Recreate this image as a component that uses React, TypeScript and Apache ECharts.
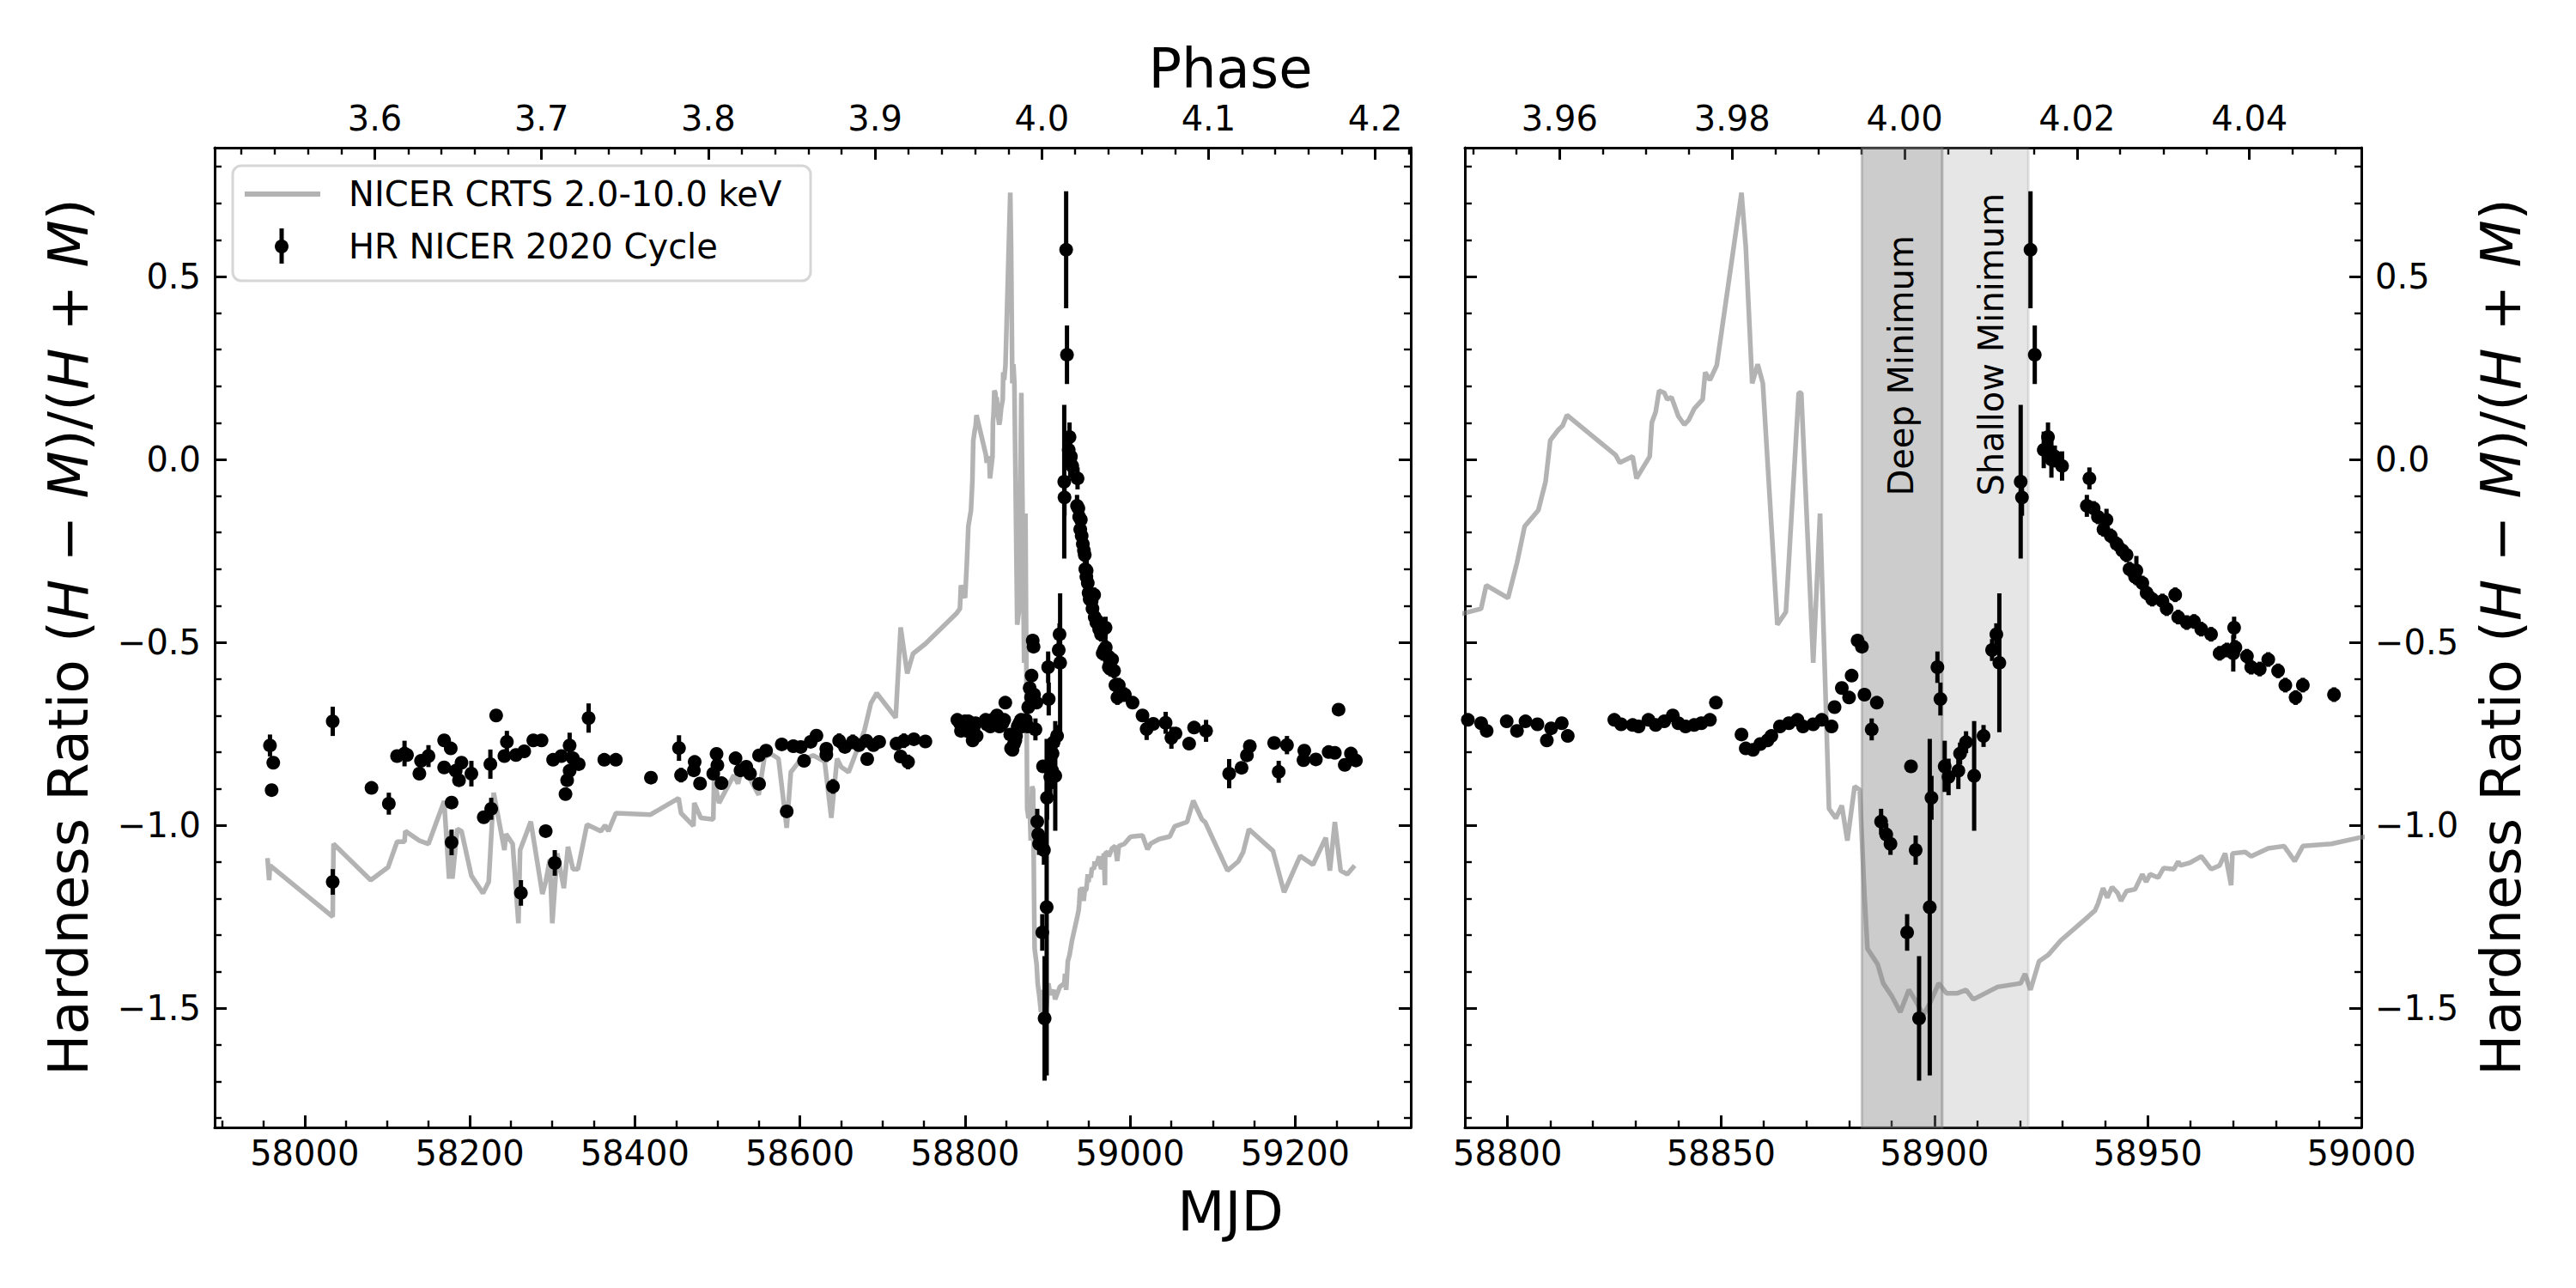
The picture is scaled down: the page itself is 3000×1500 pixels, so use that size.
import React, { useEffect, useRef } from 'react';
import * as echarts from 'echarts';

const FONT = 'DejaVu Sans';

// Axis ranges
const mjdLeftRange = [57891, 59340];
const mjdRightRange = [58790, 59000];
const hrRange = [-1.826, 0.852];
// Ephemeris used for the top phase axis: phase = 4 + (MJD - 58893) / 2020
const phaseRefMjd = 58893;
const phaseRef = 4.0;
const periodDays = 2020;

// Shaded intervals (MJD)
const deepMinimum = [58883, 58901.8];
const shallowMinimum = [58901.8, 58922];

// Hardness ratio points: [MJD, HR, error]
const hrQuiescent = [
  [57958, -0.782, 0.03], [57962, -0.829, 0.015], [57960, -0.904, 0.015],
  [58034, -0.716, 0.04], [58034, -1.155, 0.035], [58081, -0.898, 0.015],
  [58102, -0.941, 0.03], [58112, -0.811, 0.015], [58121, -0.804, 0.035],
  [58124, -0.808, 0.015], [58139, -0.859, 0.015], [58141, -0.824, 0.015],
  [58150, -0.811, 0.03], [58169, -0.768, 0.015], [58177, -0.79, 0.015],
  [58169, -0.842, 0.015], [58178, -0.938, 0.015], [58178, -1.047, 0.035],
  [58183, -0.851, 0.015], [58187, -0.877, 0.015], [58190, -0.829, 0.015],
  [58202, -0.859, 0.035], [58217, -0.978, 0.015], [58226, -0.955, 0.03],
  [58225, -0.833, 0.04], [58232, -0.7, 0.015], [58245, -0.772, 0.03],
  [58242, -0.811, 0.015], [58256, -0.808, 0.015], [58266, -0.798, 0.015],
  [58262, -1.185, 0.035], [58277, -0.768, 0.015], [58287, -0.768, 0.015],
  [58292, -1.016, 0.015], [58301, -0.821, 0.015], [58303, -1.103, 0.035],
  [58311, -0.811, 0.015], [58321, -0.782, 0.035], [58325, -0.817, 0.015],
  [58332, -0.833, 0.015], [58321, -0.851, 0.015], [58318, -0.877, 0.015],
  [58316, -0.915, 0.015], [58344, -0.707, 0.04], [58363, -0.821, 0.015],
  [58377, -0.821, 0.015], [58419.5, -0.87, 0.015], [58453.5, -0.789, 0.035],
  [58456, -0.863, 0.02], [58472.5, -0.827, 0.015], [58471.5, -0.85, 0.015],
  [58479, -0.886, 0.015], [58499, -0.805, 0.015], [58500, -0.836, 0.015],
  [58495, -0.859, 0.015], [58505, -0.885, 0.015], [58522, -0.817, 0.015],
  [58528, -0.85, 0.015], [58535, -0.84, 0.015], [58539.5, -0.859, 0.015],
  [58550.5, -0.809, 0.015], [58559, -0.796, 0.015], [58550.5, -0.887, 0.015],
  [58578, -0.779, 0.015], [58584, -0.962, 0.015], [58592, -0.784, 0.015],
  [58601, -0.786, 0.015], [58605, -0.824, 0.015], [58613, -0.772, 0.015],
  [58620, -0.755, 0.015], [58632, -0.791, 0.015], [58632, -0.807, 0.02],
  [58640, -0.894, 0.02], [58647.5, -0.769, 0.02], [58654.5, -0.786, 0.015],
  [58664, -0.772, 0.02], [58671.5, -0.781, 0.015], [58680.5, -0.769, 0.015],
  [58681.5, -0.819, 0.015], [58689, -0.781, 0.015], [58696, -0.772, 0.015],
  [58717, -0.777, 0.015], [58722, -0.812, 0.015], [58726, -0.769, 0.02],
  [58731, -0.827, 0.02], [58738, -0.765, 0.015], [58752, -0.771, 0.015],
];

const hrPeriastron = [
  [58790.7, -0.712, 0.015], [58793.8, -0.721, 0.015], [58795.1, -0.742, 0.015],
  [58799.8, -0.716, 0.015], [58802.2, -0.742, 0.015], [58804.2, -0.716, 0.015],
  [58807, -0.724, 0.015], [58809.2, -0.768, 0.015], [58810.2, -0.735, 0.015],
  [58812.7, -0.721, 0.015], [58814.1, -0.756, 0.015], [58825, -0.712, 0.015],
  [58826.6, -0.724, 0.015], [58829.3, -0.726, 0.015], [58830.7, -0.73, 0.015],
  [58833, -0.712, 0.015], [58834.7, -0.726, 0.015], [58836.7, -0.716, 0.015],
  [58838.7, -0.7, 0.015], [58840, -0.721, 0.015], [58841.7, -0.73, 0.015],
  [58843.7, -0.726, 0.015], [58845.4, -0.721, 0.015], [58847.4, -0.712, 0.015],
  [58848.8, -0.665, 0.015], [58854.8, -0.752, 0.015], [58855.8, -0.79, 0.015],
  [58857.5, -0.794, 0.015], [58859.2, -0.778, 0.015], [58860.9, -0.768, 0.015],
  [58861.8, -0.756, 0.015], [58863.8, -0.73, 0.015], [58865.9, -0.721, 0.015],
  [58867.9, -0.712, 0.015], [58869.2, -0.73, 0.015], [58871.6, -0.724, 0.015],
  [58873.6, -0.712, 0.015], [58875.9, -0.73, 0.015], [58876.6, -0.677, 0.015],
  [58878.3, -0.625, 0.015], [58880, -0.651, 0.015], [58880.6, -0.591, 0.015],
  [58882, -0.495, 0.015], [58883, -0.512, 0.015], [58883.6, -0.643, 0.015],
  [58886.5, -0.665, 0.015], [58885.3, -0.738, 0.03], [58887.5, -0.99, 0.035],
  [58888.7, -1.025, 0.03], [58889.7, -1.051, 0.03], [58894.5, -0.839, 0.015],
  [58895.6, -1.068, 0.04], [58893.6, -1.293, 0.05], [58896.4, -1.528, 0.17],
  [58898.9, -1.224, 0.46], [58899.3, -0.925, 0.06], [58900.7, -0.568, 0.043],
  [58901.4, -0.655, 0.045], [58902.4, -0.839, 0.07], [58903.3, -0.868, 0.05],
  [58905.6, -0.851, 0.05], [58906, -0.804, 0.03], [58907.4, -0.773, 0.03],
  [58909.3, -0.865, 0.15], [58911.5, -0.756, 0.03], [58913.5, -0.521, 0.03],
  [58914.5, -0.478, 0.03], [58915.2, -0.556, 0.19], [58920.2, -0.061, 0.21],
  [58920.5, -0.104, 0.05], [58922.5, 0.573, 0.16], [58923.5, 0.286, 0.08],
  [58925.6, 0.026, 0.05], [58926.6, 0.061, 0.04], [58927.4, 0.0, 0.05],
  [58928.2, 0.008, 0.03], [58929.9, -0.018, 0.04], [58936.3, -0.052, 0.03],
  [58935.7, -0.127, 0.03], [58937.3, -0.134, 0.02], [58938.3, -0.157, 0.02],
  [58939.6, -0.191, 0.02], [58940.3, -0.165, 0.03], [58941.3, -0.209, 0.02],
  [58942.7, -0.231, 0.02], [58944, -0.249, 0.02], [58945, -0.261, 0.02],
  [58945.7, -0.3, 0.02], [58947.3, -0.304, 0.04], [58947, -0.321, 0.02],
  [58948.7, -0.338, 0.02], [58949.7, -0.365, 0.02], [58951, -0.382, 0.02],
  [58953.4, -0.387, 0.02], [58954.4, -0.408, 0.02], [58956.4, -0.37, 0.02],
  [58957.1, -0.431, 0.02], [58959.1, -0.446, 0.02], [58960.8, -0.443, 0.02],
  [58962.5, -0.464, 0.02], [58964.8, -0.478, 0.02], [58966.8, -0.53, 0.02],
  [58968.5, -0.521, 0.02], [58970.2, -0.46, 0.03], [58970, -0.53, 0.05],
  [58970.5, -0.514, 0.02], [58973.2, -0.538, 0.02], [58974.2, -0.568, 0.02],
  [58976.2, -0.573, 0.02], [58978.2, -0.547, 0.02], [58980.5, -0.578, 0.02],
  [58982.2, -0.617, 0.02], [58984.6, -0.651, 0.02], [58986.3, -0.617, 0.02],
  [58993.6, -0.643, 0.02],
];

const hrRecovery = [
  [59003, -0.665, 0.015], [59015, -0.7, 0.015], [59020, -0.737, 0.03],
  [59028, -0.723, 0.015], [59043, -0.72, 0.03], [59050, -0.761, 0.03],
  [59055, -0.749, 0.015], [59071.5, -0.777, 0.015], [59077.5, -0.733, 0.015],
  [59092, -0.742, 0.03], [59120, -0.859, 0.04], [59135, -0.843, 0.015],
  [59141.5, -0.809, 0.015], [59145, -0.784, 0.015], [59174.5, -0.775, 0.015],
  [59190, -0.781, 0.025], [59180, -0.854, 0.03], [59211, -0.796, 0.015],
  [59210, -0.822, 0.015], [59225, -0.82, 0.015], [59240.5, -0.8, 0.015],
  [59248, -0.802, 0.015], [59252.5, -0.684, 0.015], [59267.5, -0.804, 0.015],
  [59260, -0.835, 0.015], [59273.5, -0.823, 0.015],
];

// NICER count-rate light curve (scaled to the HR axis): [MJD, value]
const crtsQuiescent = [
  [57955, -1.09], [57957, -1.15], [57958, -1.11], [58034, -1.25], [58035, -1.051],
  [58080, -1.15], [58101, -1.115], [58112, -1.045], [58121, -1.045], [58122, -1.016],
  [58139, -1.042], [58150, -1.051], [58169, -0.934], [58175, -1.146], [58176, -1.016],
  [58179, -1.146], [58181, -1.1], [58185, -1.01], [58190, -1.016], [58202, -1.138],
  [58216, -1.186], [58223, -1.155], [58229, -0.911], [58242, -1.068], [58244, -1.024],
  [58252, -1.051], [58259, -1.268], [58261, -1.068], [58274, -0.99], [58288, -1.188],
  [58292, -1.155], [58297, -1.094], [58300, -1.268], [58306, -1.077], [58314, -1.172],
  [58319, -1.059], [58325, -1.12], [58331, -1.12], [58342, -0.998], [58359, -1.016],
  [58364, -1.0], [58368, -1.016], [58377, -0.967], [58419, -0.971], [58453, -0.926],
  [58456, -0.967], [58471, -1.002], [58472, -0.939], [58480, -0.98], [58495, -0.984],
  [58496, -0.877], [58502, -0.939], [58520, -0.863], [58525, -0.886], [58528, -0.86],
  [58535, -0.855], [58550, -0.917], [58557, -0.814], [58565, -0.805], [58574, -0.818],
  [58584, -1.007], [58589, -0.855], [58599, -0.826], [58616, -0.809], [58630, -0.826],
  [58638, -0.98], [58645, -0.818], [58650, -0.841], [58659, -0.855], [58678, -0.742],
  [58686, -0.666], [58693, -0.639], [58716, -0.706], [58722, -0.459], [58730, -0.585],
  [58737, -0.531], [58752, -0.504],
];

const crtsPeriastron = [
  [58790, -0.42], [58793.8, -0.408], [58795, -0.344], [58800.1, -0.379], [58802.2, -0.283],
  [58804, -0.183], [58807.2, -0.139], [58808.9, -0.061], [58810, 0.052], [58811.9, 0.081],
  [58812.9, 0.092], [58813.9, 0.121], [58825.3, 0.012], [58826.3, -0.009], [58829.3, 0.008],
  [58830.2, -0.052], [58833.3, 0.008], [58833.8, 0.101], [58834.7, 0.13], [58835.5, 0.188],
  [58836.7, 0.182], [58837.4, 0.164], [58838.4, 0.17], [58840, 0.118], [58841.4, 0.095],
  [58842.4, 0.107], [58843.7, 0.138], [58845.7, 0.164], [58846.3, 0.238], [58847.4, 0.217],
  [58849, 0.257], [58854.8, 0.729], [58855.8, 0.581], [58857.3, 0.208], [58858.6, 0.26],
  [58859.8, 0.208], [58863.2, -0.452], [58865.2, -0.417], [58868.2, 0.182], [58868.8, 0.182],
  [58871.6, -0.556], [58873.2, -0.148], [58875.3, -0.955], [58876.9, -0.981], [58878.3, -0.946],
  [58879.6, -1.042], [58881.3, -0.894], [58882.5, -0.903], [58883.6, -1.19], [58884.3, -1.337],
  [58886.7, -1.38], [58888, -1.432], [58890, -1.467], [58892, -1.511], [58894, -1.45],
  [58895.4, -1.476], [58897.4, -1.519], [58899, -1.485], [58901, -1.432], [58902.8, -1.459],
  [58905.4, -1.459], [58907.4, -1.45], [58909.1, -1.476], [58914.8, -1.442], [58920.2, -1.432],
  [58921.2, -1.406], [58922.5, -1.45], [58924.5, -1.372], [58926.6, -1.355], [58929.6, -1.315],
  [58936, -1.25], [58937.6, -1.233], [58938.3, -1.215], [58939.5, -1.172], [58940.5, -1.198],
  [58941.6, -1.169], [58942.9, -1.185], [58943.7, -1.207], [58945, -1.18], [58947, -1.175],
  [58948.7, -1.134], [58949.6, -1.155], [58950.5, -1.134], [58952.4, -1.143], [58953.7, -1.117],
  [58956.1, -1.12], [58957.1, -1.099], [58957.6, -1.11], [58959.8, -1.103], [58962.5, -1.085],
  [58964.8, -1.12], [58966.8, -1.11], [58968.1, -1.077], [58969.5, -1.164], [58969.8, -1.077],
  [58972.8, -1.073], [58974.2, -1.085], [58978.2, -1.063], [58981.9, -1.057], [58984.4, -1.098],
  [58986.3, -1.057], [58993, -1.051], [58999.9, -1.033],
];

const crtsRecovery = [
  [59002, -1.031], [59015, -1.028], [59021, -1.066], [59025, -1.05], [59035, -1.038],
  [59048, -1.031], [59054, -1.003], [59069, -0.991], [59076.5, -0.933], [59087, -0.984],
  [59091, -0.992], [59118, -1.124], [59131, -1.099], [59137, -1.073], [59144, -1.011],
  [59173, -1.07], [59186.5, -1.183], [59206, -1.084], [59221.5, -1.108], [59237, -1.034],
  [59242, -1.124], [59248, -0.991], [59255, -1.124], [59263, -1.134], [59272, -1.11],
];

const legendLabels = ['NICER CRTS 2.0-10.0 keV', 'HR NICER 2020 Cycle'];
const spanLabels = ['Deep Minimum', 'Shallow Minimum'];

const hrAll = [...hrQuiescent, ...hrPeriastron, ...hrRecovery];
const crtsAll = [...crtsQuiescent, ...crtsPeriastron, ...crtsRecovery];

const toPhase = (mjd: number) => phaseRef + (mjd - phaseRefMjd) / periodDays;
const minusFmt = (v: number, d: number) => (v < 0 ? '\u2212' : '') + Math.abs(v).toFixed(d);

const LINE_COLOR = 'rgba(128,128,128,0.6)';

function axisBase(showLabel: boolean, minorSplit: number, fmt: (v: number) => string, margin: number, showMin = false, showMax = false) {
  return {
    type: 'value',
    axisLine: { show: true, onZero: false, lineStyle: { color: '#000', width: 3 } },
    axisTick: { show: true, inside: true, length: 14, lineStyle: { color: '#000', width: 3 } },
    minorTick: { show: true, splitNumber: minorSplit, length: 8, lineStyle: { color: '#000', width: 2.4 } },
    splitLine: { show: false },
    minorSplitLine: { show: false },
    axisLabel: {
      show: showLabel,
      color: '#000',
      fontSize: 40,
      fontFamily: FONT,
      margin,
      showMinLabel: showMin,
      showMaxLabel: showMax,
      formatter: fmt,
    },
    axisPointer: { show: false },
  };
}

function errorBarSeries(xi: number, yi: number, data: number[][]) {
  return {
    type: 'custom',
    xAxisIndex: xi,
    yAxisIndex: yi,
    silent: true,
    z: 3,
    dimensions: ['x', 'y', 'e'],
    encode: { x: 0, y: 1 },
    data,
    renderItem: (params: any, api: any) => {
      const x = api.value(0);
      const y = api.value(1);
      const e = api.value(2);
      const p1 = api.coord([x, y - e]);
      const p2 = api.coord([x, y + e]);
      return {
        type: 'line',
        shape: { x1: p1[0], y1: p1[1], x2: p2[0], y2: p2[1] },
        style: { stroke: '#000', lineWidth: 5 },
      };
    },
  };
}

export default function App() {
  const ref = useRef<HTMLDivElement>(null);

  useEffect(() => {
    if (!ref.current) return;
    const chart = echarts.init(ref.current, undefined, { renderer: 'svg' });

    const inRight = (d: number[]) => d[0] >= mjdRightRange[0] && d[0] <= mjdRightRange[1];
    const hrRight = hrAll.filter(inRight);

    const option: any = {
      animation: false,
      textStyle: { fontFamily: FONT },
      grid: [
        { left: 250, top: 172, width: 1393, height: 1141, containLabel: false, outerBoundsMode: 'none' },
        { left: 1706, top: 172, width: 1044, height: 1141, containLabel: false, outerBoundsMode: 'none' },
      ],
      xAxis: [
        {
          ...axisBase(true, 4, (v: number) => String(Math.round(v)), 10),
          gridIndex: 0, position: 'bottom',
          min: mjdLeftRange[0], max: mjdLeftRange[1], minInterval: 200, maxInterval: 200, splitNumber: 7,
        },
        {
          ...axisBase(true, 5, (v: number) => v.toFixed(1), 14),
          gridIndex: 0, position: 'top',
          min: toPhase(mjdLeftRange[0]), max: toPhase(mjdLeftRange[1]), minInterval: 0.1, maxInterval: 0.1, splitNumber: 7,
        },
        {
          ...axisBase(true, 5, (v: number) => String(Math.round(v)), 10, false, true),
          gridIndex: 1, position: 'bottom',
          min: mjdRightRange[0], max: mjdRightRange[1], minInterval: 50, maxInterval: 50, splitNumber: 4,
        },
        {
          ...axisBase(true, 4, (v: number) => v.toFixed(2), 14),
          gridIndex: 1, position: 'top',
          min: toPhase(mjdRightRange[0]), max: toPhase(mjdRightRange[1]), minInterval: 0.02, maxInterval: 0.02, splitNumber: 5,
        },
      ],
      yAxis: [
        {
          ...axisBase(true, 5, (v: number) => minusFmt(v, 1), 16),
          gridIndex: 0, position: 'left',
          min: hrRange[0], max: hrRange[1], minInterval: 0.5, maxInterval: 0.5, splitNumber: 5,
        },
        {
          ...axisBase(false, 5, (v: number) => minusFmt(v, 1), 16),
          gridIndex: 0, position: 'right',
          min: hrRange[0], max: hrRange[1], minInterval: 0.5, maxInterval: 0.5, splitNumber: 5,
        },
        {
          ...axisBase(false, 5, (v: number) => minusFmt(v, 1), 16),
          gridIndex: 1, position: 'left',
          min: hrRange[0], max: hrRange[1], minInterval: 0.5, maxInterval: 0.5, splitNumber: 5,
        },
        {
          ...axisBase(true, 5, (v: number) => minusFmt(v, 1), 16),
          gridIndex: 1, position: 'right',
          min: hrRange[0], max: hrRange[1], minInterval: 0.5, maxInterval: 0.5, splitNumber: 5,
        },
      ],
      series: [
        {
          name: legendLabels[0], type: 'line', xAxisIndex: 0, yAxisIndex: 0,
          data: crtsAll, showSymbol: false, symbol: 'none', silent: true, z: 2,
          lineStyle: { color: LINE_COLOR, width: 5.5 },
        },
        errorBarSeries(0, 0, hrAll),
        {
          name: legendLabels[1], type: 'scatter', xAxisIndex: 0, yAxisIndex: 0,
          data: hrAll.map((d) => [d[0], d[1]]), symbol: 'circle', symbolSize: 16, silent: true, z: 4,
          itemStyle: { color: '#000', opacity: 1 },
        },
        {
          type: 'line', xAxisIndex: 2, yAxisIndex: 3,
          data: crtsAll, showSymbol: false, symbol: 'none', silent: true, z: 2, clip: true,
          lineStyle: { color: LINE_COLOR, width: 5.5 },
          markArea: {
            silent: true,
            label: { show: false },
            data: [
              [
                { xAxis: deepMinimum[0], itemStyle: { color: 'rgba(128,128,128,0.4)', borderColor: 'rgba(128,128,128,0.4)', borderWidth: 3 } },
                { xAxis: deepMinimum[1] },
              ],
              [
                { xAxis: shallowMinimum[0], itemStyle: { color: 'rgba(128,128,128,0.2)', borderColor: 'rgba(128,128,128,0.2)', borderWidth: 3 } },
                { xAxis: shallowMinimum[1] },
              ],
            ],
          },
        },
        errorBarSeries(2, 3, hrRight),
        {
          type: 'scatter', xAxisIndex: 2, yAxisIndex: 3,
          data: hrRight.map((d) => [d[0], d[1]]), symbol: 'circle', symbolSize: 16, silent: true, z: 4,
          itemStyle: { color: '#000', opacity: 1 },
        },
      ],
    };

    chart.setOption(option);

    const deepPos = chart.convertToPixel({ gridIndex: 1 } as any, [(deepMinimum[0] + deepMinimum[1]) / 2 - 0.3, -0.1]) as number[];
    const shallowPos = chart.convertToPixel({ gridIndex: 1 } as any, [(shallowMinimum[0] + shallowMinimum[1]) / 2 + 1.5, -0.1]) as number[];

    const labelRich = {
      a: { fontSize: 64, fontFamily: FONT, color: '#000' },
      b: { fontSize: 64, fontFamily: FONT, fontStyle: 'italic', color: '#000' },
    };
    const labelText = '{a|Hardness Ratio (}{b|H}{a| \u2212 }{b|M}{a|)/(}{b|H}{a| + }{b|M}{a|)}';

    chart.setOption({
      graphic: [
        // axis titles
        { type: 'text', x: 1433, y: 80, z: 50, style: { text: 'Phase', fontSize: 64, fontFamily: FONT, fill: '#000', align: 'center', verticalAlign: 'middle' } },
        { type: 'text', x: 1433, y: 1411, z: 50, style: { text: 'MJD', fontSize: 64, fontFamily: FONT, fill: '#000', align: 'center', verticalAlign: 'middle' } },
        { type: 'text', x: 80, y: 742, rotation: Math.PI / 2, z: 50, style: { text: labelText, rich: labelRich, align: 'center', verticalAlign: 'middle' } },
        { type: 'text', x: 2913, y: 742, rotation: Math.PI / 2, z: 50, style: { text: labelText, rich: labelRich, align: 'center', verticalAlign: 'middle' } },
        // span annotations
        { type: 'text', x: deepPos[0], y: deepPos[1], rotation: Math.PI / 2, z: 50, style: { text: spanLabels[0], fontSize: 40, fontFamily: FONT, fill: '#000', align: 'left', verticalAlign: 'middle' } },
        { type: 'text', x: shallowPos[0], y: shallowPos[1], rotation: Math.PI / 2, z: 50, style: { text: spanLabels[1], fontSize: 40, fontFamily: FONT, fill: '#000', align: 'left', verticalAlign: 'middle' } },
        // legend
        { type: 'rect', z: 60, shape: { x: 271, y: 193, width: 673, height: 134, r: 10 }, style: { fill: 'rgba(255,255,255,0.8)', stroke: '#d6d6d6', lineWidth: 3 } },
        { type: 'line', z: 61, shape: { x1: 285, y1: 226, x2: 373, y2: 226 }, style: { stroke: '#b3b3b3', lineWidth: 6 } },
        { type: 'line', z: 61, shape: { x1: 328, y1: 266, x2: 328, y2: 307 }, style: { stroke: '#000', lineWidth: 5 } },
        { type: 'circle', z: 62, shape: { cx: 328, cy: 287, r: 8 }, style: { fill: '#000' } },
        { type: 'text', z: 62, x: 406, y: 226, style: { text: legendLabels[0], fontSize: 40, fontFamily: FONT, fill: '#000', align: 'left', verticalAlign: 'middle' } },
        { type: 'text', z: 62, x: 406, y: 287, style: { text: legendLabels[1], fontSize: 40, fontFamily: FONT, fill: '#000', align: 'left', verticalAlign: 'middle' } },
      ],
    });

    return () => chart.dispose();
  }, []);

  return (
    <div
      ref={ref}
      style={{ position: 'fixed', left: 0, top: 0, width: 3000, height: 1500, background: '#fff' }}
    />
  );
}
